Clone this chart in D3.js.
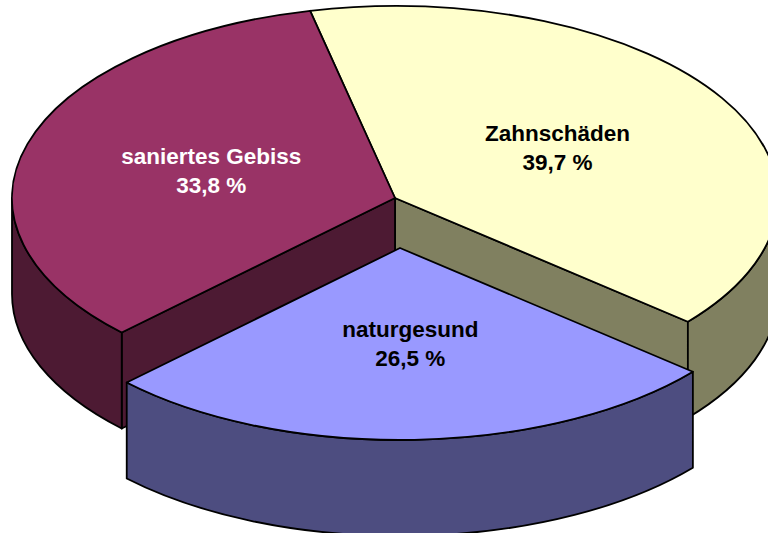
<!DOCTYPE html>
<html>
<head>
<meta charset="utf-8">
<script src="https://cdn.jsdelivr.net/npm/d3@7"></script>
<style>
html,body{margin:0;padding:0;background:#fff;overflow:hidden}
svg{display:block}
text{font-family:"Liberation Sans",Arial,sans-serif;font-weight:bold;font-size:22.5px;text-anchor:middle}
</style>
</head>
<body>
<svg id="c" width="768" height="533"></svg>
<script>
const categories = ["Zahnschäden", "naturgesund", "saniertes Gebiss"];
const shares = [39.7, 26.5, 33.8];
const shareLabels = ["39,7 %", "26,5 %", "33,8 %"];
const topColors = ["#FFFFCC", "#9999FF", "#993366"];
const sideColors = ["#808060", "#4D4D80", "#4D1A33"];
const textColors = ["#000000", "#000000", "#FFFFFF"];

const W = 768, H = 533;
const cx = 395, cy = 198, rx = 383, ry = 192, depth = 96;
const explode = [{dx:0,dy:0},{dx:5,dy:50},{dx:0,dy:0}];
const labelShift = [{dx:-1,dy:0},{dx:3,dy:0},{dx:0,dy:0}];

const pie = d3.pie().sort(null)
  .startAngle(-12.8 * Math.PI / 180)
  .endAngle((360 - 12.8) * Math.PI / 180);
const arcs = pie(shares);

const sx = d3.scaleLinear().domain([-1, 1]).range([cx - rx, cx + rx]);
const sy = d3.scaleLinear().domain([-1, 1]).range([cy - ry, cy + ry]);
const pt = (a, o, d = 0) => [sx(Math.sin(a)) + o.dx, sy(-Math.cos(a)) + o.dy + d];

const svg = d3.select("#c");
const stroke = "#000", sw = 1.8;

function topPath(a, o) {
  const p0 = pt(a.startAngle, o), p1 = pt(a.endAngle, o);
  const large = a.endAngle - a.startAngle > Math.PI ? 1 : 0;
  return `M${cx + o.dx},${cy + o.dy}L${p0}A${rx},${ry} 0 ${large} 1 ${p1}Z`;
}
function wallPath(a0, a1, o) {
  const p0 = pt(a0, o), p1 = pt(a1, o), q1 = pt(a1, o, depth), q0 = pt(a0, o, depth);
  return `M${p0}A${rx},${ry} 0 0 1 ${p1}L${q1}A${rx},${ry} 0 0 0 ${q0}Z`;
}
function radialWall(a, o) {
  const p = pt(a, o), q = pt(a, o, depth);
  const c = [cx + o.dx, cy + o.dy];
  return `M${c}L${p}L${q}L${c[0]},${c[1] + depth}Z`;
}
function drawSlice(i) {
  const a = arcs[i], o = explode[i];
  const g = svg.append("g").attr("class", "slice");
  const style = s => s.attr("stroke", stroke).attr("stroke-width", sw).attr("stroke-linejoin", "round");
  if (i === 0) style(g.append("path").attr("d", radialWall(a.endAngle, o)).attr("fill", sideColors[i]));
  if (i === 2) style(g.append("path").attr("d", radialWall(a.startAngle, o)).attr("fill", sideColors[i]));
  const lo = Math.max(a.startAngle, Math.PI / 2), hi = Math.min(a.endAngle, 3 * Math.PI / 2);
  if (hi > lo) style(g.append("path").attr("d", wallPath(lo, hi, o)).attr("fill", sideColors[i]));
  style(g.append("path").attr("d", topPath(a, o)).attr("fill", topColors[i]));
}
[0, 2, 1].forEach(drawSlice);

arcs.forEach((a, i) => {
  const mid = (a.startAngle + a.endAngle) / 2;
  const x = cx + explode[i].dx + (sx(Math.sin(mid)) - cx) * 0.5 + labelShift[i].dx;
  const y = cy + explode[i].dy + (sy(-Math.cos(mid)) - cy) * 0.5 + labelShift[i].dy;
  const t = svg.append("text").attr("fill", textColors[i]);
  t.append("tspan").attr("x", x).attr("y", y - 7).text(categories[i]);
  t.append("tspan").attr("x", x).attr("y", y + 22).text(shareLabels[i]);
});
</script>
</body>
</html>
